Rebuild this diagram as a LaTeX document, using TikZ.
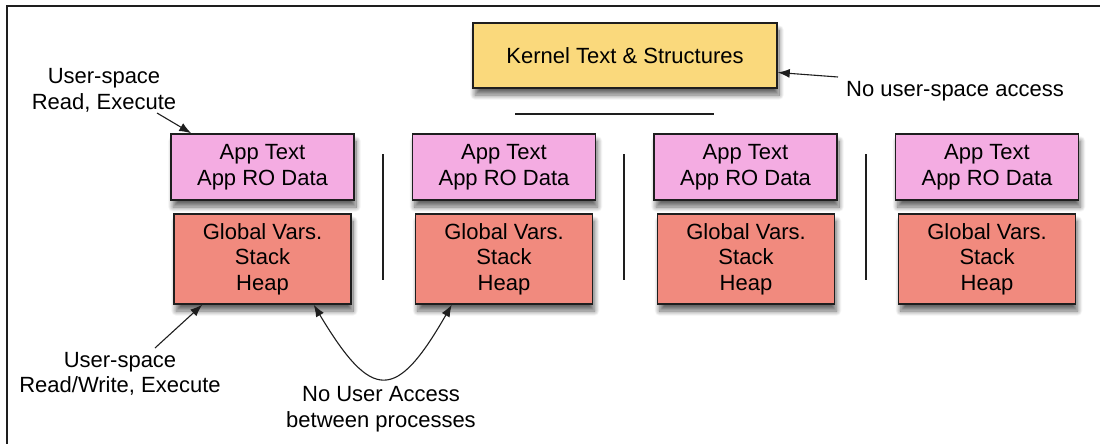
\documentclass[tikz,border=0pt]{standalone}
\usepackage{fontspec}
\setmainfont{Liberation Sans}
\usetikzlibrary{arrows.meta,shadows.blur}

\definecolor{kernelfill}{RGB}{250,217,124}
\definecolor{textfill}{RGB}{244,172,226}
\definecolor{datafill}{RGB}{241,138,126}
\definecolor{ink}{RGB}{30,30,30}

\tikzset{
  seg/.style={draw=ink, line width=1.5pt, minimum width=183pt, minimum height=66pt,
    inner sep=0pt, align=center, font=\fontsize{22}{25.5}\selectfont,
    blur shadow={shadow xshift=2pt, shadow yshift=-7pt, shadow blur radius=5pt,
      shadow blur steps=12, shadow opacity=60}},
  kernelbox/.style={seg, fill=kernelfill, minimum width=304pt, minimum height=65pt},
  textbox/.style={seg, fill=textfill},
  databox/.style={seg, fill=datafill, minimum width=177pt, minimum height=90pt},
  note/.style={align=center, font=\fontsize{22}{25.5}\selectfont, inner sep=0pt},
  sep/.style={draw=ink, line width=1.3pt},
  tip/.tip={Latex[length=12pt,width=9pt]},
  pointer/.style={draw=ink, line width=1.1pt, -tip},
}

\begin{document}
\begin{tikzpicture}[x=1pt, y=-1pt]
\useasboundingbox (0,0) rectangle (1100,444);

% open frame: left and top edges only
\draw[ink, line width=1.6pt] (7,444) -- (7,6) -- (1100,6);

% kernel region
\node[kernelbox] (k) at (625,55.5) {Kernel Text \& Structures};
\draw[sep] (515,114) -- (714,114);

% four processes
\foreach \i/\cx/\dx in {1/262.5/262.5, 2/504/504, 3/745.5/746, 4/987/987} {
  \node[textbox] (p\i) at (\cx,167) {App Text\\App RO Data};
  \node[databox] (r\i) at (\dx,259) {Global Vars.\\Stack\\Heap};
}

% separators between processes
\foreach \sx in {383,624,866}
  \draw[sep] (\sx,154) -- (\sx,280);

% notes
\node[note] (ul) at (104,90.5) {User-space\\Read, Execute};
\node[note] (kn) at (955,91) {No user-space access};
\node[note] (ll) at (120,374) {User-space\\Read/Write, Execute};
\node[note] (nb) at (381,409) {No User Access\\between processes};

\coordinate (ulTail) at (157,113);
\coordinate (knTail) at (838,77);
\coordinate (llTail) at (155,348);

\draw[pointer] (ulTail) -- ([xshift=21pt]p1.north west);
\draw[pointer] (knTail) -- ([yshift=-17pt]k.east);
\draw[pointer] (llTail) -- ([xshift=29pt]r1.south west);
\draw[draw=ink, line width=1.1pt, tip-tip]
  ([xshift=-38pt]r1.south east) .. controls (372,402) and (396,402) .. ([xshift=37pt]r2.south west);
\end{tikzpicture}
\end{document}
